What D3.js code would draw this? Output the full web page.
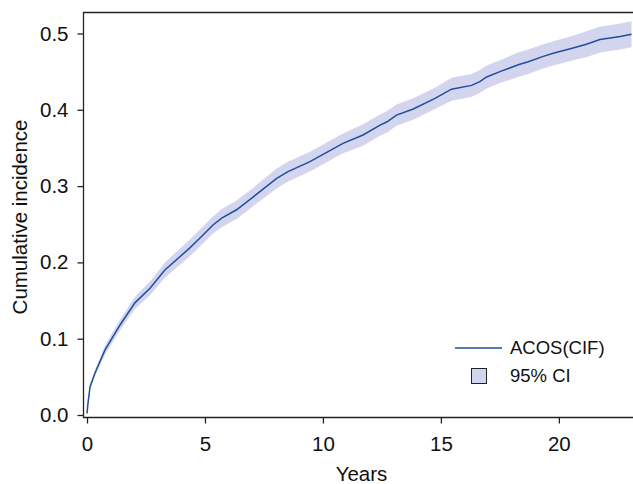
<!DOCTYPE html>
<html>
<head>
<meta charset="utf-8">
<script src="https://cdn.jsdelivr.net/npm/d3@7"></script>
<style>
  body { margin: 0; background: #fff; }
  svg { display: block; font-family: "Liberation Sans", Arial, sans-serif; }
</style>
</head>
<body>
<div id="chart"></div>
<script>
// Cumulative incidence curve
const years = [0, 0.04, 0.13, 0.34, 0.76, 1.40, 2.03, 2.67, 3.30, 4.36, 4.79, 5.34, 5.71, 6.34, 7.05, 8.04, 8.52, 9.45, 10.85, 11.70,
  12.42, 12.70, 13.12, 13.83, 14.75, 15.45, 16.30, 16.65, 16.94, 17.50, 18.28, 18.70, 19.34, 19.76, 20.60, 21.17, 21.74, 22.60, 23.08];
const cif = [0.002, 0.015, 0.037, 0.055, 0.085, 0.118, 0.147, 0.166, 0.190, 0.219, 0.232, 0.249, 0.258, 0.269, 0.286, 0.310, 0.319, 0.332, 0.356, 0.367,
  0.380, 0.384, 0.393, 0.401, 0.415, 0.427, 0.432, 0.437, 0.443, 0.450, 0.459, 0.463, 0.470, 0.474, 0.481, 0.486, 0.492, 0.496, 0.499];
const ciLower = [0.002, 0.013, 0.034, 0.051, 0.079, 0.111, 0.139, 0.157, 0.180, 0.208, 0.221, 0.238, 0.246, 0.257, 0.274, 0.297, 0.306, 0.319, 0.343, 0.353,
  0.366, 0.370, 0.379, 0.387, 0.401, 0.412, 0.417, 0.422, 0.428, 0.435, 0.443, 0.447, 0.454, 0.458, 0.465, 0.469, 0.475, 0.479, 0.482];
const ciUpper = [0.002, 0.017, 0.040, 0.059, 0.091, 0.125, 0.155, 0.175, 0.200, 0.230, 0.243, 0.260, 0.270, 0.281, 0.298, 0.323, 0.332, 0.345, 0.369, 0.381,
  0.394, 0.398, 0.407, 0.415, 0.429, 0.442, 0.447, 0.452, 0.458, 0.465, 0.475, 0.479, 0.486, 0.490, 0.497, 0.503, 0.509, 0.513, 0.516];

const xTicks = [0, 5, 10, 15, 20];
const yTicks = [0, 0.1, 0.2, 0.3, 0.4, 0.5];
const legendLabels = ["ACOS(CIF)", "95% CI"];

const width = 633, height = 484;
const lineColor = "#1f4e9f";
const bandColor = "#d3d5ee";
const font = "Liberation Sans, Arial, sans-serif";
const fontSize = 20.5;

const svg = d3.select("#chart").append("svg")
  .attr("width", width)
  .attr("height", height);

const x = d3.scaleLinear().domain([0, 23.1]).range([87, 632]);
const y = d3.scaleLinear().domain([0, 0.5]).range([415, 33.5]);

// frame sits a little outside the data region (left, top, bottom)
const frameLeft = 83.5, frameTop = 12.5, frameBottom = 417.5;

const rows = years.map((t, i) => ({ t, v: cif[i], lo: ciLower[i], hi: ciUpper[i] }));

// confidence band
svg.append("path")
  .datum(rows)
  .attr("fill", bandColor)
  .attr("d", d3.area()
    .x(d => x(d.t))
    .y0(d => y(d.lo))
    .y1(d => y(d.hi)));

// curve
svg.append("path")
  .datum(rows)
  .attr("fill", "none")
  .attr("stroke", lineColor)
  .attr("stroke-width", 1.5)
  .attr("d", d3.line().x(d => x(d.t)).y(d => y(d.v)));

// frame
svg.append("path")
  .attr("fill", "none")
  .attr("stroke", "#222")
  .attr("stroke-width", 1.3)
  .attr("d", `M${width + 2},${frameTop}H${frameLeft}V${frameBottom}H${width + 2}`);

// y axis
const yAxis = svg.append("g")
  .attr("transform", `translate(${frameLeft},0)`)
  .call(d3.axisLeft(y).tickValues(yTicks).tickFormat(d3.format(".1f")).tickSize(6).tickPadding(9));
yAxis.select(".domain").remove();
yAxis.selectAll("line").attr("stroke", "#222").attr("stroke-width", 1.3);
yAxis.selectAll("text").attr("font-size", fontSize).attr("fill", "#111").attr("font-family", font);

// x axis
const xAxis = svg.append("g")
  .attr("transform", `translate(0,${frameBottom})`)
  .call(d3.axisBottom(x).tickValues(xTicks).tickFormat(d3.format("d")).tickSize(6).tickPadding(13));
xAxis.select(".domain").remove();
xAxis.selectAll("line").attr("stroke", "#222").attr("stroke-width", 1.3);
xAxis.selectAll("text").attr("font-size", fontSize).attr("fill", "#111").attr("font-family", font);

// axis titles
svg.append("text")
  .attr("x", 361.5)
  .attr("y", 481)
  .attr("text-anchor", "middle")
  .attr("font-size", fontSize)
  .attr("fill", "#111")
  .text("Years");

svg.append("text")
  .attr("transform", "translate(26.5,217) rotate(-90)")
  .attr("text-anchor", "middle")
  .attr("font-size", fontSize)
  .attr("fill", "#111")
  .text("Cumulative incidence");

// legend
const legend = svg.append("g");
legend.append("line")
  .attr("x1", 455).attr("x2", 502)
  .attr("y1", 348).attr("y2", 348)
  .attr("stroke", lineColor)
  .attr("stroke-width", 1.5);
legend.append("rect")
  .attr("x", 471.5).attr("y", 368.5)
  .attr("width", 15).attr("height", 15)
  .attr("fill", bandColor)
  .attr("stroke", "#222")
  .attr("stroke-width", 1);
legend.selectAll("text.lab")
  .data(legendLabels)
  .join("text")
  .attr("class", "lab")
  .attr("x", 510)
  .attr("y", (d, i) => 348 + i * 28)
  .attr("dy", "0.35em")
  .attr("font-size", 18.5)
  .attr("fill", "#111")
  .text(d => d);
</script>
</body>
</html>
